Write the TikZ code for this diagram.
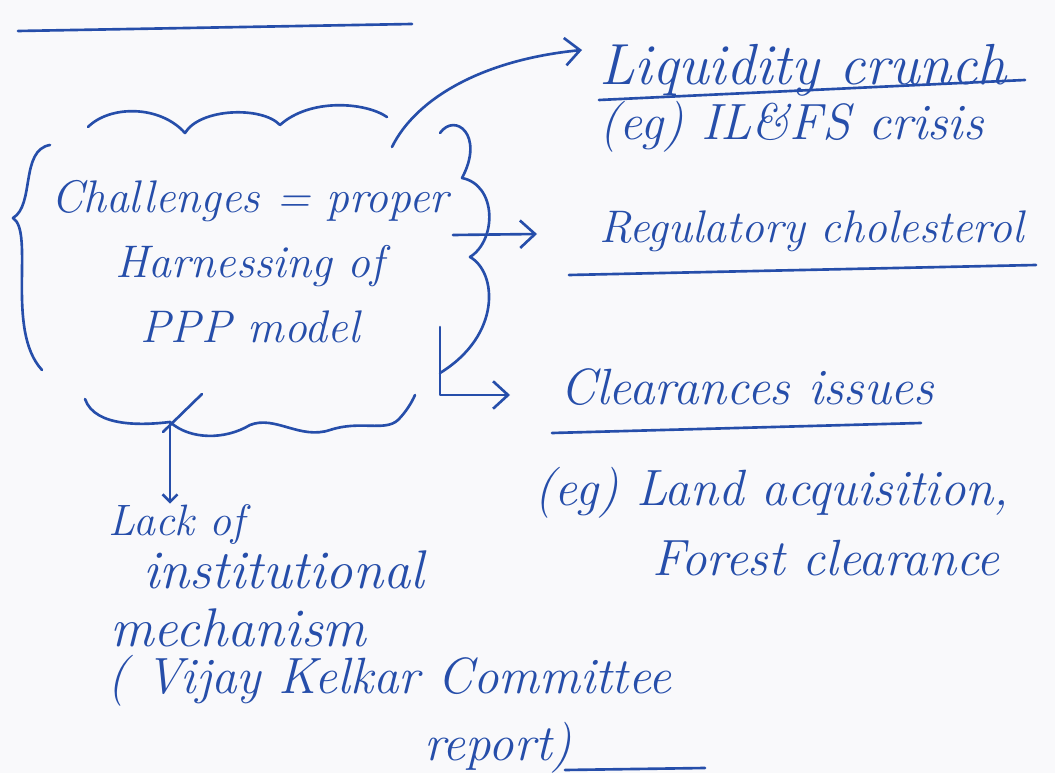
\documentclass[tikz,border=0pt]{standalone}
\usepackage{tikz}
\usetikzlibrary{calc, arrows.meta, positioning}
\definecolor{ink}{RGB}{38,78,170}
\definecolor{paper}{RGB}{249,249,251}

\begin{document}
\begin{tikzpicture}[x=0.02cm, y=-0.02cm,
    ink/.style={draw=ink, line width=1.5pt, line cap=round, line join=round},
    arr/.style={ink, -{Straight Barb[length=3mm, width=5.5mm]}},
    note/.style={text=ink, inner sep=0pt, anchor=base west,
        font=\fontsize{29}{36}\selectfont\itshape}]
    % 1. Trang giấy
    \fill[paper] (0,0) rectangle (1055,773);
    \useasboundingbox (0,0) rectangle (1055,773);
    \draw[ink] (18,31) -- (412,24);

    % 2. Đám mây và nội dung
    \node[note, anchor=center, align=center, font=\fontsize{26}{37}\selectfont\itshape]
        (chal) at (250,262) {Challenges = proper\\ Harnessing of\\ PPP model};
    \draw[ink] (50,145) .. controls (20,150) and (35,205) .. (13,218)
        .. controls (35,232) and (5,330) .. (42,370);
    \draw[ink] (88,127) .. controls (110,105) and (160,105) .. (185,133)
        .. controls (200,108) and (262,106) .. (280,125)
        .. controls (310,98) and (365,102) .. (387,117);
    \draw[ink] (440,133) .. controls (455,112) and (485,135) .. (462,178)
        .. controls (497,185) and (497,240) .. (470,257)
        .. controls (497,272) and (502,335) .. (440,373);
    \draw[ink] (85,399) .. controls (95,428) and (145,425) .. (170,422)
        .. controls (190,440) and (225,440) .. (250,425)
        .. controls (275,415) and (300,440) .. (330,430)
        .. controls (360,420) and (385,432) .. (398,420)
        .. controls (406,412) and (412,402) .. (415,395);
    \draw[ink] (202,394) -- (163,432);
    \coordinate (cloudtr) at (392,147);
    \coordinate (cloudr) at (453,235);
    \coordinate (cloudbr) at (440,327);
    \coordinate (cloudb) at (170,422);

    % 3. Các ý
    \node[note, font=\fontsize{33}{38}\selectfont\itshape] (liq) at (599,85) {Liquidity crunch};
    \node[note] (eg1) at (599,140) {(eg) IL\&FS crisis};
    \node[note, font=\fontsize{26}{32}\selectfont\itshape] (reg) at (599,243) {Regulatory cholesterol};
    \node[note] (clr) at (560,405) {Clearances issues};
    \node[note] (eg2) at (534,505) {(eg) Land acquisition,};
    \node[note] (forest) at (652,575) {Forest clearance};
    \node[note, font=\fontsize{25}{30}\selectfont\itshape] (lack) at (108,535) {Lack of};
    \node[note, font=\fontsize{31}{36}\selectfont\itshape] (inst) at (143,588) {institutional};
    \node[note, font=\fontsize{31}{36}\selectfont\itshape] (mech) at (110,646) {mechanism};
    \node[note] (vij) at (107,693) {( Vijay Kelkar Committee};
    \node[note] (rep) at (424,760) {report)};

    % 4. Gạch chân
    \draw[ink] (599,100) -- (1025,80);
    \draw[ink] (569,275) -- (1036,265);
    \draw[ink] (552,433) -- (921,423);
    \draw[ink] (565,770) -- (705,768);

    % 5. Mũi tên
    \draw[arr] (cloudtr) .. controls (415,100) and (480,60) .. ($(liq.base west)+(-17,-35)$);
    \draw[arr] (cloudr) -- ($(reg.base west)+(-62,-9)$);
    \draw[arr] (cloudbr) |- ($(clr.base west)+(-50,-10)$);
    \draw[ink, -{Straight Barb[length=1.5mm, width=3mm]}] (cloudb) -- (cloudb |- lack.north);
\end{tikzpicture}
\end{document}
